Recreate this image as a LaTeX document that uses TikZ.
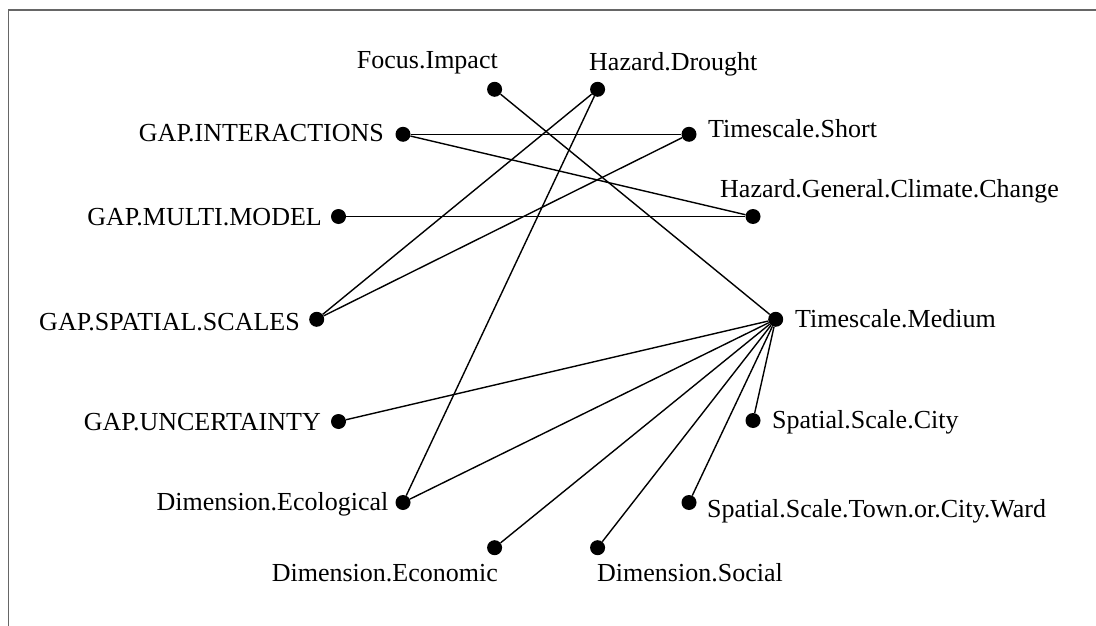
\documentclass[tikz,border=0pt]{standalone}
\usepackage{fontspec}
\setmainfont{Liberation Serif}
\begin{document}
\begin{tikzpicture} [x=1pt, y=-1pt,
  dot/.style={circle, fill=black, inner sep=0pt, minimum size=15pt},
  lbl/.style={inner sep=0pt, font=\fontsize{26}{30}\selectfont},
  edge/.style={line width=1.4pt}]
\useasboundingbox (0, 0) rectangle (1096, 626);
\draw[black!60, line width=1.2pt] (8.4, 626) -- (8.4, 10) -- (1096, 10);
\node[dot] (fi) at (494.6, 89.3) {};
\node[dot] (hd) at (597.6, 89.3) {};
\node[dot] (gi) at (403, 134.3) {};
\node[dot] (ts) at (689, 134.3) {};
\node[dot] (gm) at (338.5, 216.5) {};
\node[dot] (hg) at (753, 216.5) {};
\node[dot] (gs) at (316.7, 319.3) {};
\node[dot] (tm) at (775.7, 319.3) {};
\node[dot] (gu) at (338.5, 421.5) {};
\node[dot] (sc) at (753, 420.5) {};
\node[dot] (de) at (403, 502.5) {};
\node[dot] (sw) at (689, 502.5) {};
\node[dot] (dn) at (494.6, 547.7) {};
\node[dot] (dso) at (597.6, 547.7) {};
\node[lbl, anchor=base east] (fi-l) at (498, 69) {Focus.Impact};
\node[lbl, anchor=base west] (hd-l) at (589, 70.5) {Hazard.Drought};
\node[lbl, anchor=base east] (gi-l) at (384, 141) {GAP.INTERACTIONS};
\node[lbl, anchor=base west] (ts-l) at (708, 138) {Timescale.Short};
\node[lbl, anchor=base east] (gm-l) at (322, 225.5) {GAP.MULTI.MODEL};
\node[lbl, anchor=base west] (hg-l) at (720, 197) {Hazard.General.Climate.Change};
\node[lbl, anchor=base east] (gs-l) at (300, 330) {GAP.SPATIAL.SCALES};
\node[lbl, anchor=base west] (tm-l) at (795, 327) {Timescale.Medium};
\node[lbl, anchor=base east] (gu-l) at (321, 430) {GAP.UNCERTAINTY};
\node[lbl, anchor=base west] (sc-l) at (772, 428) {Spatial.Scale.City};
\node[lbl, anchor=base east] (de-l) at (388.6, 510) {Dimension.Ecological};
\node[lbl, anchor=base west] (sw-l) at (707, 517) {Spatial.Scale.Town.or.City.Ward};
\node[lbl, anchor=base east] (dn-l) at (498, 581) {Dimension.Economic};
\node[lbl, anchor=base west] (dso-l) at (597, 581) {Dimension.Social};
\draw[edge] (fi) -- (tm);
\draw[edge] (hd) -- (gs);
\draw[edge] (hd) -- (de);
\draw[edge] (gi) -- (ts);
\draw[edge] (gi) -- (hg);
\draw[edge] (gm) -- (hg);
\draw[edge] (ts) -- (gs);
\draw[edge] (tm) -- (gu);
\draw[edge] (tm) -- (de);
\draw[edge] (tm) -- (dn);
\draw[edge] (tm) -- (dso);
\draw[edge] (tm) -- (sw);
\draw[edge] (tm) -- (sc);
\end{tikzpicture}
\end{document}
